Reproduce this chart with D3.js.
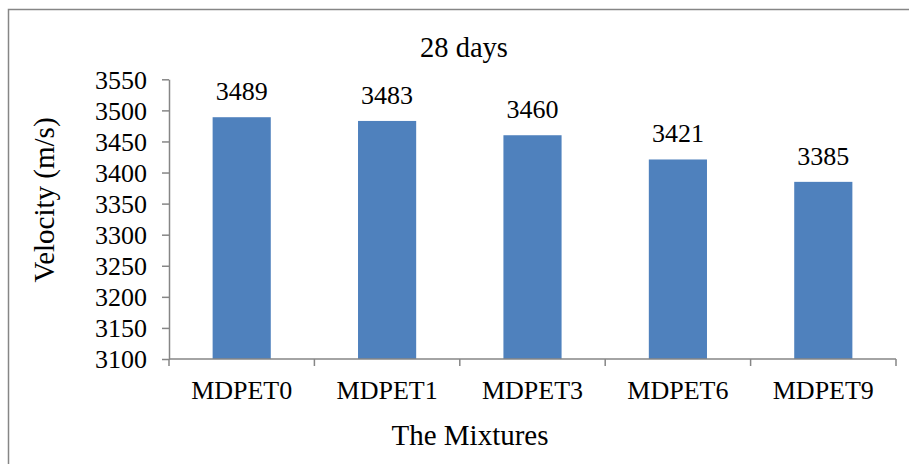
<!DOCTYPE html>
<html>
<head>
<meta charset="utf-8">
<script src="https://cdn.jsdelivr.net/npm/d3@7"></script>
<style>
  html, body { margin: 0; padding: 0; background: #fff; }
  svg { display: block; }
  svg text { font-family: "Liberation Serif", "Times New Roman", serif !important; fill: #000; }
</style>
</head>
<body>
<svg id="chart" width="909" height="464"></svg>
<script>
// Ultrasonic pulse velocity at 28 days for each mixture
const categories = ["MDPET0", "MDPET1", "MDPET3", "MDPET6", "MDPET9"];
const velocities = [3489, 3483, 3460, 3421, 3385];
const yTicks = [3100, 3150, 3200, 3250, 3300, 3350, 3400, 3450, 3500, 3550];

const svg = d3.select("#chart");
const axisColor = "#868686";
const plot = { left: 169, right: 896, top: 79.3, bottom: 359 };

// Chart frame (runs past the right and bottom edges)
svg.append("rect")
  .attr("x", 8.5).attr("y", 9.5)
  .attr("width", 940).attr("height", 500)
  .attr("fill", "none").attr("stroke", axisColor).attr("stroke-width", 1.5);

const x = d3.scaleBand().domain(categories).range([plot.left, plot.right]).padding(0);
const y = d3.scaleLinear().domain([3100, 3550]).range([plot.bottom, plot.top]);
const barW = x.bandwidth() * 0.4;

// Bars
svg.append("g").selectAll("rect")
  .data(categories)
  .join("rect")
  .attr("x", (d) => x(d) + (x.bandwidth() - barW) / 2)
  .attr("y", (d, i) => y(velocities[i]))
  .attr("width", barW)
  .attr("height", (d, i) => y(3100) - y(velocities[i]))
  .attr("fill", "#4F81BD");

// Value labels
svg.append("g").selectAll("text")
  .data(categories)
  .join("text")
  .attr("x", (d) => x(d) + x.bandwidth() / 2)
  .attr("y", (d, i) => y(velocities[i]) - 17)
  .attr("text-anchor", "middle")
  .attr("font-size", 26)
  .text((d, i) => velocities[i]);

// Y axis
const yAxis = svg.append("g")
  .attr("transform", `translate(${plot.left},0)`)
  .call(d3.axisLeft(y).tickValues(yTicks).tickSize(7).tickSizeOuter(0).tickFormat(d3.format("d")));
yAxis.select(".domain").attr("stroke", axisColor).attr("stroke-width", 1.5);
yAxis.selectAll(".tick line").attr("stroke", axisColor).attr("stroke-width", 1.5);
yAxis.selectAll(".tick text")
  .attr("x", -22).attr("dy", "0.34em")
  .attr("font-size", 26);

// X axis with ticks at category boundaries
const xAxisG = svg.append("g");
xAxisG.append("line")
  .attr("x1", plot.left).attr("x2", plot.right)
  .attr("y1", plot.bottom).attr("y2", plot.bottom)
  .attr("stroke", axisColor).attr("stroke-width", 1.5);
const boundaries = categories.map((c) => x(c)).concat([x(categories[categories.length - 1]) + x.bandwidth()]);
xAxisG.selectAll("line.tick")
  .data(boundaries)
  .join("line")
  .attr("class", "tick")
  .attr("x1", (d) => d).attr("x2", (d) => d)
  .attr("y1", plot.bottom).attr("y2", plot.bottom + 7)
  .attr("stroke", axisColor).attr("stroke-width", 1.5);
xAxisG.selectAll("text")
  .data(categories)
  .join("text")
  .attr("x", (d) => x(d) + x.bandwidth() / 2)
  .attr("y", 399)
  .attr("text-anchor", "middle")
  .attr("font-size", 26)
  .text((d) => d);

// Titles
svg.append("text")
  .attr("x", 464).attr("y", 57)
  .attr("text-anchor", "middle")
  .attr("font-size", 28.5)
  .text("28 days");

svg.append("text")
  .attr("x", 470).attr("y", 445)
  .attr("text-anchor", "middle")
  .attr("font-size", 29)
  .text("The Mixtures");

svg.append("text")
  .attr("transform", "translate(54,200) rotate(-90)")
  .attr("text-anchor", "middle")
  .attr("font-size", 29)
  .text("Velocity (m/s)");
</script>
</body>
</html>
